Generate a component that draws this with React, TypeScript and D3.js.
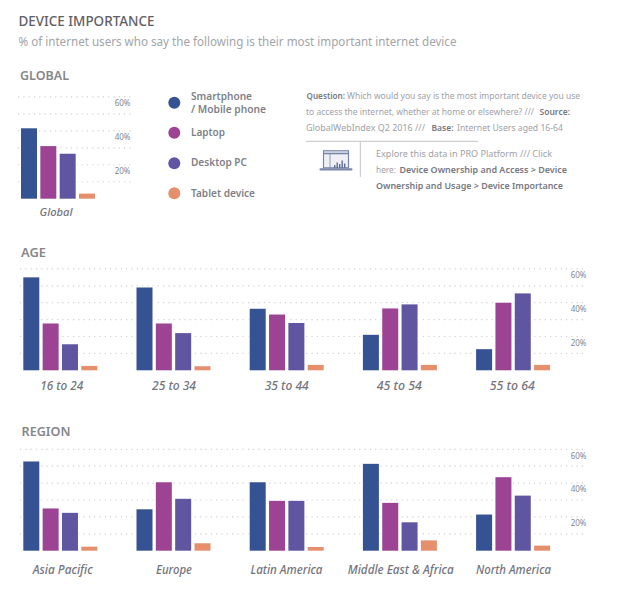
import React from "react";
import * as d3 from "d3";

const FONT = "'Noto Sans', sans-serif";
const seriesNames = ["Smartphone / Mobile phone", "Laptop", "Desktop PC", "Tablet device"];
const seriesColors = ["#355392", "#9c4393", "#5f55a0", "#e58f6d"];

const globalCategories = ["Global"];
const globalSmartphone = [41.5];
const globalLaptop = [31];
const globalDesktop = [26.5];
const globalTablet = [3];

const ageCategories = ["16 to 24", "25 to 34", "35 to 44", "45 to 54", "55 to 64"];
const ageSmartphone = [55, 49, 36.4, 21, 12.5];
const ageLaptop = [27.7, 27.7, 33, 36.6, 40];
const ageDesktop = [15.4, 22, 28, 39, 45.5];
const ageTablet = [2.6, 2.4, 3.2, 3.2, 3.2];

const regionCategories = ["Asia Pacific", "Europe", "Latin America", "Middle East & Africa", "North America"];
const regionSmartphone = [52.8, 24.5, 40.5, 51.4, 21.4];
const regionLaptop = [25, 40.5, 29.5, 28.3, 43.5];
const regionDesktop = [22.4, 30.7, 29.5, 16.8, 32.6];
const regionTablet = [2.4, 4.4, 2.2, 6.1, 3];

const gridValues = [10, 20, 30, 40, 50, 60];
const tickValues = [20, 40, 60];

function T({ x, y, w, s, c = "#77787f", b = 400, i = false, a = "start", fs = 10 }: any) {
  return (
    <text
      x={x}
      y={y}
      dy="0.35em"
      textAnchor={a}
      textLength={w}
      lengthAdjust="spacingAndGlyphs"
      fontFamily={FONT}
      fontSize={fs}
      fontWeight={b}
      fontStyle={i ? "italic" : "normal"}
      fill={c}
    >
      {s}
    </text>
  );
}

type PanelProps = {
  categories: string[];
  series: number[][];
  baseY: number;
  x0: number;
  step: number;
  gridLeft: number;
  gridRight: number;
  pxPer60: number;
  labelY: number;
  labelCx: number[];
  labelW: number[];
  labelFs: number;
};

function Panel({ categories, series, baseY, x0, step, gridLeft, gridRight, pxPer60, labelY, labelCx, labelW, labelFs }: PanelProps) {
  const y = d3.scaleLinear().domain([0, 60]).range([baseY, baseY - pxPer60]);
  const groupX = d3.scaleLinear().domain([0, 1]).range([x0, x0 + step]);
  const barX = d3.scalePoint<number>().domain([0, 1, 2, 3]).range([0, 58]);
  const barW = 16;
  return (
    <g>
      {gridValues.map((g) => (
        <line key={g} x1={gridLeft} x2={gridRight} y1={y(g)} y2={y(g)} stroke="#d0d0d5" strokeWidth={1.2} strokeDasharray="1.2 4.1" />
      ))}
      {tickValues.map((t) => (
        <text key={t} x={gridRight} y={y(t) + 6.4} dy="0.35em" textAnchor="end" fontFamily={FONT} fontSize={8} fill="#85868c">
          {t}%
        </text>
      ))}
      {categories.map((c, ci) =>
        series.map((vals, si) => (
          <rect
            key={c + si}
            x={groupX(ci) + (barX(si) as number)}
            y={y(vals[ci])}
            width={barW}
            height={baseY - y(vals[ci])}
            fill={seriesColors[si]}
            stroke="#ffffff"
            strokeWidth={2.4}
            paintOrder="stroke"
          />
        ))
      )}
      {categories.map((c, ci) => (
        <T key={c} x={labelCx[ci]} y={labelY} a="middle" w={labelW[ci]} s={c} i b={500} fs={labelFs} c="#73747d" />
      ))}
    </g>
  );
}

export default function App() {
  return (
    <svg width={625} height={595} viewBox="0 0 625 595" style={{ position: "absolute", left: 0, top: 0, background: "#fff" }}>
      <T x={18.5} y={21} w={136} s="DEVICE IMPORTANCE" fs={14} b={500} c="#5f6066" />
      <T x={18.5} y={42} w={438} s="% of internet users who say the following is their most important internet device" fs={12} c="#a3a4a8" />
      <T x={20} y={75} w={49} s="GLOBAL" fs={13} b={600} c="#85868a" />
      <T x={21} y={252} w={25} s="AGE" fs={13} b={600} c="#85868a" />
      <T x={21.5} y={431} w={49} s="REGION" fs={13} b={600} c="#85868a" />

      <Panel
        categories={globalCategories}
        series={[globalSmartphone, globalLaptop, globalDesktop, globalTablet]}
        baseY={198.7}
        x0={21}
        step={113}
        gridLeft={18}
        gridRight={130.5}
        pxPer60={101.8}
        labelY={212.5}
        labelCx={[56]}
        labelW={[33]}
        labelFs={11}
      />
      <Panel
        categories={ageCategories}
        series={[ageSmartphone, ageLaptop, ageDesktop, ageTablet]}
        baseY={370.3}
        x0={23.3}
        step={113.2}
        gridLeft={20}
        gridRight={586.5}
        pxPer60={101.4}
        labelY={385.7}
        labelCx={[61.7, 174, 286.7, 399.3, 512.3]}
        labelW={[43, 44, 44, 45, 45]}
        labelFs={12}
      />
      <Panel
        categories={regionCategories}
        series={[regionSmartphone, regionLaptop, regionDesktop, regionTablet]}
        baseY={550.7}
        x0={23.3}
        step={113.2}
        gridLeft={20}
        gridRight={586.5}
        pxPer60={101.4}
        labelY={569.7}
        labelCx={[62.7, 174, 286.5, 400.7, 513.5]}
        labelW={[60, 36, 72, 106, 75]}
        labelFs={12}
      />

      {seriesColors.map((c, i) => (
        <circle key={seriesNames[i]} cx={174.3} cy={[102.7, 132.7, 163.3, 193.3][i]} r={6} fill={c} />
      ))}
      <T x={191} y={96} w={61} s="Smartphone" b={600} c="#808187" />
      <T x={191} y={109} w={75} s="/ Mobile phone" b={600} c="#808187" />
      <T x={191} y={132.5} w={34} s="Laptop" b={600} c="#808187" />
      <T x={191} y={162.5} w={56} s="Desktop PC" b={600} c="#808187" />
      <T x={191} y={193} w={64} s="Tablet device" b={600} c="#808187" />

      <T x={306.5} y={95.7} w={38.5} s="Question:" fs={9} b={600} c="#77787f" />
      <T x={347} y={95.7} w={233} s="Which would you say is the most important device you use" fs={9} c="#a0a1a6" />
      <T x={306} y={112} w={228} s="to access the internet, whether at home or elsewhere? ///" fs={8.3} c="#a0a1a6" />
      <T x={539.5} y={112} w={30.5} s="Source:" fs={9} b={600} c="#77787f" />
      <T x={306} y={128} w={119} s="GlobalWebIndex Q2 2016 ///" fs={9} c="#a0a1a6" />
      <T x={431.5} y={128} w={22} s="Base:" fs={9} b={600} c="#77787f" />
      <T x={457} y={128} w={106} s="Internet Users aged 16-64" fs={9} c="#a0a1a6" />

      <line x1={306} x2={478} y1={141.3} y2={141.3} stroke="#c4c4c8" strokeWidth={1} />
      <line x1={360.3} x2={360.3} y1={141.3} y2={177} stroke="#c4c4c8" strokeWidth={1} />

      <g fill="none" stroke="#7986ab">
        <rect x={323.5} y={150.8} width={25} height={17} strokeWidth={1.2} fill="#eef0f6" />
        <line x1={323.5} x2={348.5} y1={153.5} y2={153.5} strokeWidth={1.6} />
        <line x1={330} x2={330} y1={154} y2={168} strokeWidth={0.8} />
      </g>
      <rect x={319.5} y={168.2} width={33} height={2.2} rx={1} fill="#7986ab" />
      <g fill="#5f6d98">
        <rect x={334} y={165} width={1.4} height={3} />
        <rect x={336.5} y={162.5} width={1.4} height={5.5} />
        <rect x={339} y={164} width={1.4} height={4} />
        <rect x={341.5} y={160.5} width={1.4} height={7.5} />
        <rect x={344} y={163.5} width={1.4} height={4.5} />
      </g>

      <T x={376} y={154} w={176} s="Explore this data in PRO Platform /// Click" fs={9} c="#a0a1a6" />
      <T x={376} y={170} w={20} s="here:" fs={9} c="#a0a1a6" />
      <T x={399.5} y={170} w={167.5} s="Device Ownership and Access > Device" fs={9} b={600} c="#77787f" />
      <T x={376} y={186} w={187} s="Ownership and Usage > Device Importance" fs={9} b={600} c="#77787f" />
    </svg>
  );
}
